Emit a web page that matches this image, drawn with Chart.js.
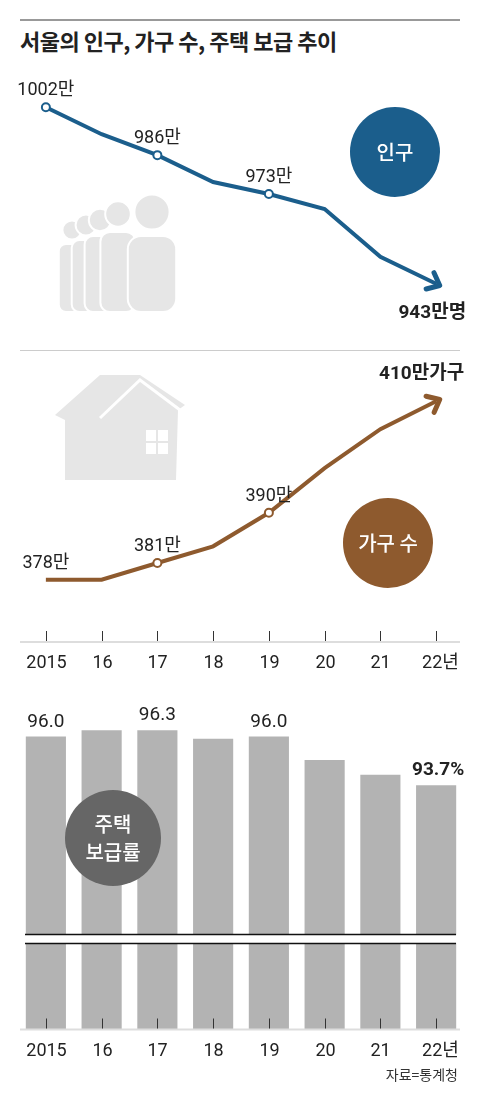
<!DOCTYPE html>
<html>
<head>
<meta charset="utf-8">
<script src="https://cdn.jsdelivr.net/npm/chart.js@4"></script>
<style>
  body { margin: 0; background: #fff; }
  #wrap { position: relative; width: 480px; height: 1100px; overflow: hidden; }
  canvas { position: absolute; left: 0; }
  .title { position: absolute; left: 20px; top: 24px; font: bold 22px "Noto Sans CJK KR", sans-serif; color: #222; letter-spacing: -0.5px; }
  .rule { position: absolute; left: 20px; width: 440px; height: 1px; background: #999; }
</style>
</head>
<body>
<div id="wrap">
  <div class="rule" style="top:19px;height:2px"></div>
  <div class="title">서울의 인구, 가구 수, 주택 보급 추이</div>
  <div class="rule" style="top:350px;background:#ccc"></div>
  <canvas id="popChart" style="top:60px" width="480" height="280"></canvas>
  <canvas id="houseChart" style="top:360px" width="480" height="330"></canvas>
  <canvas id="rateChart" style="top:690px" width="480" height="410"></canvas>
</div>
<script>
const years = ['2015', '16', '17', '18', '19', '20', '21', '22년'];
const population = [1002, 993, 986, 977, 973, 968, 952, 943];
const popLabels = ['1002만', '', '986만', '', '973만', '', '', '943만명'];
const households = [378, 378, 381, 384, 390, 398, 405, 410];
const houseLabels = ['378만', '', '381만', '', '390만', '', '', '410만가구'];
const supplyRate = [96.0, 96.3, 96.3, 95.9, 96.0, 94.9, 94.2, 93.7];
const rateLabels = ['96.0', '', '96.3', '', '96.0', '', '', '93.7%'];

const FONT = '"Roboto", "Noto Sans CJK KR", sans-serif';
const BLUE = '#1b5e8c';
const BROWN = '#8e5a2e';
const PAD = { left: 18, right: 16 };

Chart.defaults.animation = false;
Chart.defaults.responsive = false;

function circleLabel(ctx, x, y, r, color, lines) {
  ctx.save();
  ctx.fillStyle = color;
  ctx.beginPath(); ctx.arc(x, y, r, 0, Math.PI * 2); ctx.fill();
  ctx.fillStyle = '#fff';
  ctx.font = '500 20px "Noto Sans CJK KR", sans-serif';
  ctx.textAlign = 'center'; ctx.textBaseline = 'middle';
  lines.forEach((t, i) => ctx.fillText(t, x, y + (i - (lines.length - 1) / 2) * 28));
  ctx.restore();
}

function arrowHead(ctx, meta, color) {
  const p = meta.data[meta.data.length - 1], q = meta.data[meta.data.length - 2];
  const a = Math.atan2(p.y - q.y, p.x - q.x);
  const tx = p.x + 4 * Math.cos(a), ty = p.y + 4 * Math.sin(a);
  ctx.save();
  ctx.strokeStyle = color; ctx.lineWidth = 5; ctx.lineCap = 'round'; ctx.lineJoin = 'round';
  ctx.beginPath();
  ctx.moveTo(tx - 14 * Math.cos(a - 0.7), ty - 14 * Math.sin(a - 0.7));
  ctx.lineTo(tx, ty);
  ctx.lineTo(tx - 14 * Math.cos(a + 0.7), ty - 14 * Math.sin(a + 0.7));
  ctx.stroke();
  ctx.restore();
}

function pointLabels(ctx, meta, labels, dy, lastOffset) {
  ctx.save();
  ctx.fillStyle = '#222'; ctx.textBaseline = 'alphabetic';
  meta.data.forEach((pt, i) => {
    if (!labels[i]) return;
    const last = i === labels.length - 1;
    ctx.font = last ? 'bold 19px ' + FONT : '18px ' + FONT;
    ctx.textAlign = last ? 'right' : 'center';
    ctx.fillText(labels[i], pt.x + (last ? lastOffset[0] : 0), pt.y + (last ? lastOffset[1] : dy));
  });
  ctx.restore();
}

function drawAxis(ctx, chart, y) {
  const x = chart.scales.x;
  ctx.save();
  ctx.strokeStyle = '#ddd'; ctx.lineWidth = 2;
  ctx.beginPath(); ctx.moveTo(20, y); ctx.lineTo(460, y); ctx.stroke();
  ctx.strokeStyle = '#333'; ctx.lineWidth = 1;
  ctx.fillStyle = '#222'; ctx.font = '18px ' + FONT; ctx.textAlign = 'center';
  years.forEach((t, i) => {
    const px = Math.round(x.getPixelForValue(i)) + 0.5;
    ctx.beginPath(); ctx.moveTo(px, y - 11); ctx.lineTo(px, y - 1); ctx.stroke();
    ctx.fillText(t, px + (i === years.length - 1 ? 4 : 0), y + 26);
  });
  ctx.restore();
}

new Chart(document.getElementById('popChart'), {
  type: 'line',
  data: { labels: years, datasets: [{
    data: population, borderColor: BLUE, borderWidth: 4, tension: 0,
    pointRadius: [4, 0, 4, 0, 4, 0, 0, 0], pointBackgroundColor: '#fff',
    pointBorderColor: BLUE, pointBorderWidth: 2
  }] },
  options: {
    layout: { padding: PAD },
    plugins: { legend: { display: false }, tooltip: { enabled: false } },
    scales: { x: { display: false, offset: true }, y: { display: false, min: 926.2, max: 1015.8 } }
  },
  plugins: [{
    id: 'pop',
    beforeDatasetsDraw(chart) {
      const ctx = chart.ctx;
      ctx.save();
      ctx.fillStyle = '#e6e6e6';
      [[72, 228, 12], [86, 222, 13], [100, 216, 14], [118, 208, 16], [152, 200, 22]].forEach(([cx, top, r]) => {
        ctx.beginPath(); ctx.arc(cx, top - 70 + r, r * 0.8, 0, Math.PI * 2); ctx.fill();
        ctx.strokeStyle = '#fff'; ctx.lineWidth = 2; ctx.stroke();
        ctx.beginPath(); ctx.roundRect(cx - r * 1.1, top - 70 + r * 2 + 2, r * 2.2, 260 - top + 70 - r * 2 - 10, r * 0.6); ctx.fill();
        ctx.stroke();
      });
      ctx.restore();
    },
    afterDatasetsDraw(chart) {
      const ctx = chart.ctx, meta = chart.getDatasetMeta(0);
      arrowHead(ctx, meta, BLUE);
      pointLabels(ctx, meta, popLabels, -12, [30, 34]);
      circleLabel(ctx, 395, 92, 45, BLUE, ['인구']);
    }
  }]
});

new Chart(document.getElementById('houseChart'), {
  type: 'line',
  data: { labels: years, datasets: [{
    data: households, borderColor: BROWN, borderWidth: 4, tension: 0,
    pointRadius: [0, 0, 4, 0, 4, 0, 0, 0], pointBackgroundColor: '#fff',
    pointBorderColor: BROWN, pointBorderWidth: 2
  }] },
  options: {
    layout: { padding: { left: PAD.left, right: PAD.right, bottom: 50 } },
    plugins: { legend: { display: false }, tooltip: { enabled: false } },
    scales: { x: { display: false, offset: true }, y: { display: false, min: 367.2, max: 417.4 } }
  },
  plugins: [{
    id: 'house',
    beforeDatasetsDraw(chart) {
      const ctx = chart.ctx;
      ctx.save();
      ctx.fillStyle = '#e6e6e6';
      ctx.beginPath();
      ctx.moveTo(55, 55); ctx.lineTo(100, 15); ctx.lineTo(140, 15); ctx.lineTo(185, 45);
      ctx.lineTo(178, 50); ctx.lineTo(176, 120); ctx.lineTo(65, 120); ctx.lineTo(65, 60); ctx.closePath(); ctx.fill();
      ctx.strokeStyle = '#fff'; ctx.lineWidth = 3;
      ctx.beginPath(); ctx.moveTo(100, 58); ctx.lineTo(140, 20); ctx.lineTo(180, 50); ctx.stroke();
      ctx.fillStyle = '#fff';
      [[146, 70], [158, 70], [146, 83], [158, 83]].forEach(([x, y]) => ctx.fillRect(x, y, 10, 11));
      ctx.restore();
    },
    afterDatasetsDraw(chart) {
      const ctx = chart.ctx, meta = chart.getDatasetMeta(0);
      arrowHead(ctx, meta, BROWN);
      pointLabels(ctx, meta, houseLabels, -12, [28, -22]);
      circleLabel(ctx, 388, 183, 45, BROWN, ['가구 수']);
      drawAxis(ctx, chart, 282);
    }
  }]
});

new Chart(document.getElementById('rateChart'), {
  type: 'bar',
  data: { labels: years, datasets: [{
    data: supplyRate, backgroundColor: '#b3b3b3', barPercentage: 0.72, categoryPercentage: 1
  }] },
  options: {
    layout: { padding: { left: PAD.left, right: PAD.right, bottom: 71 } },
    plugins: { legend: { display: false }, tooltip: { enabled: false } },
    scales: { x: { display: false }, y: { display: false, min: 82.2, max: 98.2 } }
  },
  plugins: [{
    id: 'rate',
    afterDatasetsDraw(chart) {
      const ctx = chart.ctx, meta = chart.getDatasetMeta(0);
      ctx.save();
      ctx.fillStyle = '#fff'; ctx.fillRect(0, 245, 480, 8);
      ctx.strokeStyle = '#111'; ctx.lineWidth = 1.5;
      [244.5, 253.5].forEach(y => { ctx.beginPath(); ctx.moveTo(25, y); ctx.lineTo(456, y); ctx.stroke(); });
      ctx.fillStyle = '#222'; ctx.textAlign = 'center';
      meta.data.forEach((b, i) => {
        if (!rateLabels[i]) return;
        const last = i === rateLabels.length - 1;
        ctx.font = last ? 'bold 19px ' + FONT : '19px ' + FONT;
        ctx.fillText(rateLabels[i], b.x + (last ? 2 : 0), b.y - 10);
      });
      ctx.restore();
      circleLabel(ctx, 113, 148, 48, '#666', ['주택', '보급률']);
      drawAxis(ctx, chart, 339.5);
      ctx.save();
      ctx.fillStyle = '#333'; ctx.font = '14px "Noto Sans CJK KR", sans-serif'; ctx.textAlign = 'right';
      ctx.fillText('자료=통계청', 458, 390);
      ctx.restore();
    }
  }]
});
</script>
</body>
</html>
